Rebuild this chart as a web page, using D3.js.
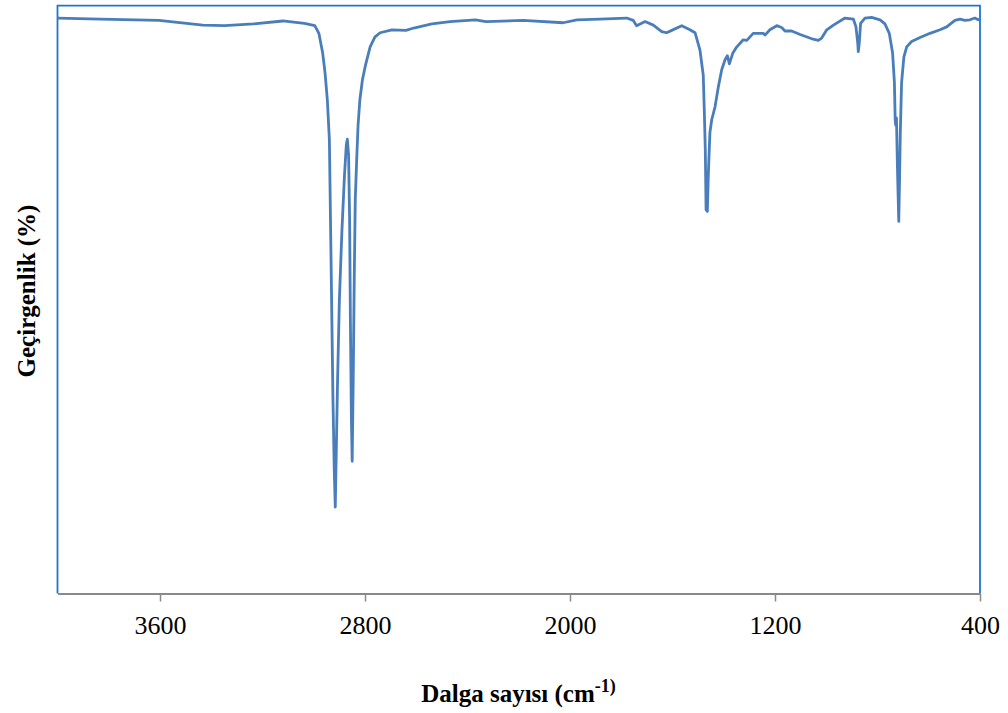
<!DOCTYPE html>
<html>
<head>
<meta charset="utf-8">
<script src="https://cdn.jsdelivr.net/npm/d3@7"></script>
<style>
	body { margin: 0; background: #fff; }
</style>
</head>
<body>
<div id="graph"></div>
<script>
// Spectrum: wavenumber (cm-1) and transmittance (%)
const waveNumber = [
	4000, 3834, 3604, 3433, 3348, 3235, 3121, 3036, 2996, 2980,
	2965, 2956, 2947, 2939, 2933, 2925, 2920, 2916, 2912, 2907,
	2900, 2890, 2880, 2873, 2869, 2864, 2860, 2857, 2853, 2850,
	2846, 2842, 2838, 2832, 2827, 2820, 2810, 2798, 2780, 2761,
	2741, 2695, 2640, 2610, 2539, 2468, 2369, 2328, 2183, 2027,
	1973, 1883, 1779, 1753, 1740, 1707, 1675, 1642, 1623, 1603,
	1564, 1532, 1512, 1493, 1480, 1476, 1472, 1469, 1464, 1460,
	1454, 1447, 1434, 1421, 1408, 1395, 1386, 1378, 1365, 1349,
	1324, 1310, 1285, 1246, 1239, 1220, 1193, 1174, 1161, 1135,
	1102, 1051, 1031, 1018, 998, 972, 927, 894, 884, 877,
	875, 871, 866, 849, 823, 790, 771, 754, 741, 734,
	731, 729, 726, 722, 717, 714, 711, 706, 697, 686,
	667, 634, 595, 556, 530, 498, 478, 459, 439, 420,
	407, 400
];
const transmittance = [
	97.9, 97.7, 97.5, 96.7, 96.6, 96.9, 97.4, 97.0, 96.6, 95.3,
	91.9, 88.6, 84.0, 77.2, 58.4, 32.9, 21.0, 14.7, 24.4, 36.3,
	49.9, 61.8, 71.2, 76.3, 77.3, 74.6, 63.5, 46.5, 29.5, 22.5,
	36.3, 53.3, 67.0, 74.3, 79.7, 84.0, 87.4, 89.9, 93.0, 94.7,
	95.4, 95.9, 95.8, 96.2, 96.9, 97.3, 97.6, 97.3, 97.5, 97.1,
	97.6, 97.7, 97.9, 97.5, 96.6, 97.3, 96.7, 95.6, 95.4, 95.8,
	96.6, 95.9, 95.4, 92.5, 88.2, 82.3, 75.5, 65.3, 65.0, 71.5,
	78.4, 80.6, 82.8, 86.2, 89.1, 90.8, 91.5, 90.1, 91.9, 93.0,
	94.2, 94.1, 95.3, 95.3, 95.0, 95.9, 96.6, 96.3, 95.7, 95.7,
	95.1, 94.3, 94.1, 94.5, 95.9, 96.7, 97.9, 97.7, 96.4, 93.6,
	92.2, 93.7, 97.0, 97.9, 98.0, 97.6, 96.9, 95.3, 91.9, 86.9,
	80.6, 79.7, 80.9, 72.1, 63.3, 70.4, 78.4, 86.9, 91.3, 93.0,
	93.9, 94.6, 95.3, 95.9, 96.4, 97.5, 97.7, 97.5, 97.6, 97.9,
	97.6, 97.7
];
const xTicks = [3600, 2800, 2000, 1200, 400];
const xDomain = [4000, 400];
const yDomain = [0, 100];

const data = waveNumber.map((w, i) => ({ w: w, t: transmittance[i] }));

// Plot area in page pixels
const plot = { left: 57.5, right: 980, top: 5.7, bottom: 593.5 };
const fullWidth = 1008,
	fullHeight = 713;
const serif = '"Liberation Serif", "Times New Roman", serif';

const svg = d3
	.select('#graph')
	.append('svg')
	.attr('width', fullWidth)
	.attr('height', fullHeight)
	.style('font-family', serif);

const x = d3.scaleLinear().domain(xDomain).range([plot.left, plot.right]);
const y = d3.scaleLinear().domain(yDomain).range([plot.bottom, plot.top]);

// Blue frame on left, top and right
svg
	.append('path')
	.attr(
		'd',
		`M${plot.left},${plot.bottom}V${plot.top}H${plot.right}V${plot.bottom}`
	)
	.attr('fill', 'none')
	.attr('stroke', '#1f77c8')
	.attr('stroke-width', 1.8);

// Spectrum line
const line = d3
	.line()
	.x((d) => x(d.w))
	.y((d) => y(d.t));

svg
	.append('path')
	.datum(data)
	.attr('fill', 'none')
	.attr('stroke', '#4a7ebb')
	.attr('stroke-width', 2.8)
	.attr('stroke-linejoin', 'round')
	.attr('d', line);

// X axis (d3 sets its own font attrs on the group, so style the texts after)
const xAxis = svg
	.append('g')
	.attr('transform', `translate(0, ${plot.bottom})`)
	.call(
		d3
			.axisBottom(x)
			.tickValues(xTicks)
			.tickSize(8)
			.tickSizeOuter(0)
			.tickPadding(14)
			.tickFormat(d3.format('d'))
	);
xAxis.select('.domain').attr('stroke', '#898989').attr('stroke-width', 2);
xAxis.selectAll('.tick line').attr('stroke', '#898989').attr('stroke-width', 1.5);
xAxis
	.selectAll('.tick text')
	.attr('fill', '#000')
	.style('font-family', serif)
	.style('font-size', '26px');

// X axis title
const xTitle = svg
	.append('text')
	.attr('text-anchor', 'middle')
	.attr('x', 518.5)
	.attr('y', 701.7)
	.style('font-size', '25px')
	.style('font-weight', 'bold');
xTitle.append('tspan').text('Dalga sayısı (cm');
xTitle
	.append('tspan')
	.attr('dy', -10)
	.style('font-size', '18px')
	.text('-1)');

// Y axis title
svg
	.append('text')
	.attr('text-anchor', 'middle')
	.attr('transform', 'translate(35, 291) rotate(-90)')
	.style('font-size', '25px')
	.style('font-weight', 'bold')
	.text('Geçirgenlik (%)');
</script>
</body>
</html>
